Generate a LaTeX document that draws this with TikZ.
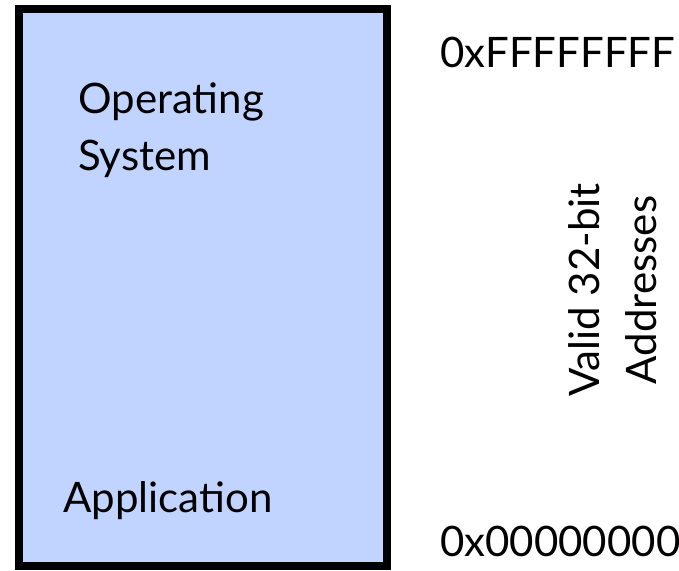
\documentclass[tikz,border=0pt]{standalone}
\usepackage{fontspec}
\setmainfont{Lato}
\definecolor{memfill}{RGB}{193,211,255}
\tikzset{
  lbl/.style={inner sep=0pt, font=\fontsize{42}{57}\selectfont},
}
\begin{document}
\begin{tikzpicture}[x=1pt,y=-1pt]
\useasboundingbox (0,0) rectangle (679,570);
\draw[line width=8pt, fill=memfill] (19,9) rectangle (387,566);
\node[lbl, anchor=base west, align=left] (os) at (78,170) {Operating\\System};
\node[lbl, anchor=base west] (app) at (63,512) {Application};
\node[lbl, anchor=base west] (top) at (440,67) {0xFFFFFFFF};
\node[lbl, anchor=base west] (bot) at (440,556) {0x00000000};
\node[lbl, rotate=90, align=center] (valid) at (613,290) {Valid 32-bit\\Addresses};
\end{tikzpicture}
\end{document}
